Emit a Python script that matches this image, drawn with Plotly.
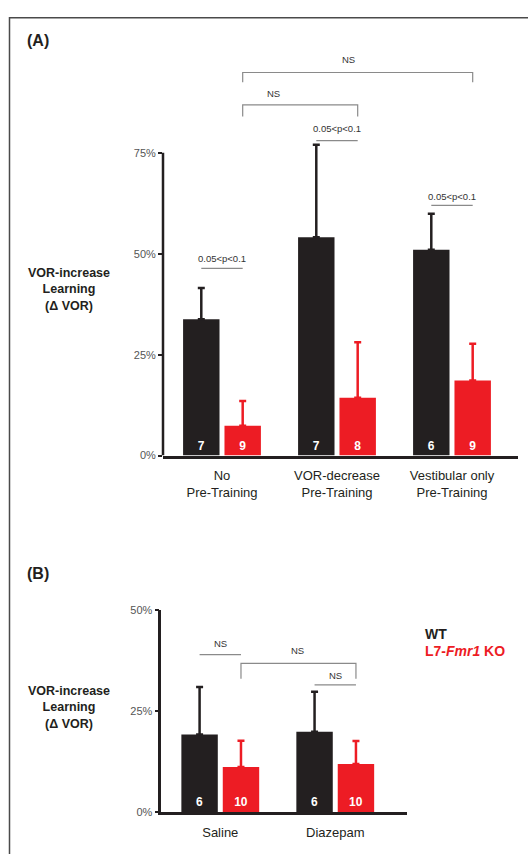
import plotly.graph_objects as go

# ---------------- data ----------------
cats_a = ["No<br>Pre-Training", "VOR-decrease<br>Pre-Training", "Vestibular only<br>Pre-Training"]
wt_a = [33.8, 54.1, 51.0]
wt_a_err = [7.7, 22.9, 8.9]
ko_a = [7.4, 14.3, 18.6]
ko_a_err = [6.1, 13.8, 9.1]
wt_a_n = [7, 7, 6]
ko_a_n = [9, 8, 9]

cats_b = ["Saline", "Diazepam"]
wt_b = [19.2, 19.9]
wt_b_err = [11.8, 9.9]
ko_b = [11.2, 11.9]
ko_b_err = [6.5, 5.7]
wt_b_n = [6, 6]
ko_b_n = [10, 10]

ticks_a = [0, 25, 50, 75]
ticks_b = [0, 25, 50]

BLACK = "#231f20"
RED = "#ed1c24"
GRAY = "#8a8a8a"
FONT = "Liberation Sans, Arial, sans-serif"

W, H = 528, 854
BARGAP = 0.28
BARGROUPGAP = 0.12
OFF = (1 - BARGAP) / 4  # centre offset of each bar within its group


def px_x(p):
    return p / W


def px_y(p):
    return 1 - p / H


fig = go.Figure()


def add_bars(xa, ya, vals, errs, ns, color):
    fig.add_trace(go.Bar(
        x=list(range(len(vals))), y=vals,
        xaxis=xa, yaxis=ya,
        marker=dict(color=color, line=dict(width=0)),
        error_y=dict(type="data", array=errs, arrayminus=[0] * len(errs), symmetric=False,
                     color=color, thickness=2.5, width=3.5),
        text=[f"<b>{n}</b>" for n in ns],
        textposition="inside", insidetextanchor="start", textangle=0,
        textfont=dict(color="white", size=12, family=FONT),
        showlegend=False, hoverinfo="skip",
    ))


add_bars("x", "y", wt_a, wt_a_err, wt_a_n, BLACK)
add_bars("x", "y", ko_a, ko_a_err, ko_a_n, RED)
add_bars("x2", "y2", wt_b, wt_b_err, wt_b_n, BLACK)
add_bars("x2", "y2", ko_b, ko_b_err, ko_b_n, RED)

shapes = []
annotations = []


def hline(xref, yref, x0, x1, y, color=GRAY, w=1.2):
    shapes.append(dict(type="line", xref=xref, yref=yref, x0=x0, x1=x1, y0=y, y1=y,
                       line=dict(color=color, width=w)))


def bracket(xref, yref, x0, x1, y, ydrop):
    shapes.append(dict(type="path", xref=xref, yref=yref,
                       path=f"M {x0},{ydrop} L {x0},{y} L {x1},{y} L {x1},{ydrop}",
                       line=dict(color=GRAY, width=1.2)))


def label(xref, yref, x, y, txt, size=9.5):
    annotations.append(dict(xref=xref, yref=yref, x=x, y=y, text=txt, showarrow=False,
                            font=dict(size=size, color="#333333", family=FONT),
                            xanchor="center", yanchor="middle"))


# Panel A significance marks
p_lines_a = [(0, 46.4, 48.9), (1, 78.0, 80.9), (2, 62.0, 64.2)]
for g, yl, yt in p_lines_a:
    hline("x", "y", g - OFF, g + OFF, yl)
    label("x", "y", g, yt, "0.05&lt;p&lt;0.1")
bracket("x", "y", 0 + OFF, 1 + OFF, 86.9, 84.0)
label("x", "y", 0.45, 89.6, "NS")
bracket("x", "y", 0 + OFF, 2 + OFF, 94.9, 92.5)
label("x", "y", 1.1, 98.0, "NS")

# Panel B significance marks
hline("x2", "y2", 0 - OFF, 0 + OFF, 39.0)
label("x2", "y2", 0, 41.7, "NS")
bracket("x2", "y2", 0 + OFF, 1 + OFF, 36.8, 33.0)
label("x2", "y2", 0.67, 39.9, "NS")
hline("x2", "y2", 1 - OFF, 1 + OFF, 31.5)
label("x2", "y2", 1.0, 33.8, "NS")

# Panel A y-axis line (only up to 75%)
shapes.append(dict(type="line", xref="x domain", yref="y", x0=0, x1=0, y0=0, y1=75,
                   line=dict(color=BLACK, width=2.5)))

# outer frame
shapes.append(dict(type="rect", xref="paper", yref="paper",
                   x0=px_x(9.5), x1=1.02, y0=-0.02, y1=px_y(12),
                   line=dict(color="#4a4a4a", width=1.5), fillcolor="rgba(0,0,0,0)", layer="below"))

# panel letters
for txt, yp in [("(A)", 35), ("(B)", 576)]:
    annotations.append(dict(xref="paper", yref="paper", x=px_x(25), y=px_y(yp), text=f"<b>{txt}</b>",
                            showarrow=False, xanchor="left", yanchor="middle",
                            font=dict(size=16, color=BLACK, family=FONT)))

# y-axis titles
for yp in [288, 712]:
    annotations.append(dict(xref="paper", yref="paper", x=px_x(69), y=px_y(yp),
                            text="<b>VOR-increase<br>Learning<br>(Δ VOR)</b>",
                            showarrow=False, xanchor="center", yanchor="middle", align="center",
                            font=dict(size=12.5, color=BLACK, family=FONT)))

# legend text
annotations.append(dict(xref="paper", yref="paper", x=px_x(423), y=px_y(637), text="<b>WT</b>",
                        showarrow=False, xanchor="left", yanchor="middle",
                        font=dict(size=14, color=BLACK, family=FONT)))
annotations.append(dict(xref="paper", yref="paper", x=px_x(423), y=px_y(654),
                        text="<b>L7-<i>Fmr1</i> KO</b>",
                        showarrow=False, xanchor="left", yanchor="middle",
                        font=dict(size=14, color=RED, family=FONT)))

tickfont_y = dict(size=11, color="#555555", family=FONT)
tickfont_x = dict(size=13, color=BLACK, family=FONT)

fig.update_layout(
    width=W, height=H,
    margin=dict(l=0, r=0, t=0, b=0),
    paper_bgcolor="white", plot_bgcolor="white",
    barmode="group", bargap=BARGAP, bargroupgap=BARGROUPGAP,
    shapes=shapes, annotations=annotations,
    font=dict(family=FONT),
    xaxis=dict(domain=[px_x(163), px_x(518)], range=[-0.513, 2.574], anchor="y",
               tickmode="array", tickvals=list(range(len(cats_a))), ticktext=cats_a,
               showline=True, linecolor=BLACK, linewidth=2.5, ticks="", showgrid=False,
               zeroline=False, tickfont=tickfont_x, ticklabelstandoff=6, fixedrange=True),
    yaxis=dict(domain=[px_y(456), px_y(40)], range=[0, 101.6], anchor="x",
               tickmode="array", tickvals=ticks_a, ticktext=[f"{t}%" for t in ticks_a],
               showline=False, ticks="outside", ticklen=4, tickwidth=2, tickcolor=BLACK,
               showgrid=False, zeroline=False, tickfont=tickfont_y, fixedrange=True),
    xaxis2=dict(domain=[px_x(161.3), px_x(407)], range=[-0.513, 1.624], anchor="y2",
                tickmode="array", tickvals=list(range(len(cats_b))), ticktext=cats_b,
                showline=True, linecolor=BLACK, linewidth=2.5, ticks="", showgrid=False,
                zeroline=False, tickfont=tickfont_x, ticklabelstandoff=6, fixedrange=True),
    yaxis2=dict(domain=[px_y(817.7), px_y(612.7)], range=[0, 50], anchor="x2",
                tickmode="array", tickvals=ticks_b, ticktext=[f"{t}%" for t in ticks_b],
                showline=True, linecolor=BLACK, linewidth=2.5,
                ticks="outside", ticklen=4, tickwidth=2, tickcolor=BLACK,
                showgrid=False, zeroline=False, tickfont=tickfont_y, fixedrange=True),
)

fig.write_html("out.html", config={"displayModeBar": False},
               post_script="document.body.style.margin='0';document.body.style.overflow='hidden';")
